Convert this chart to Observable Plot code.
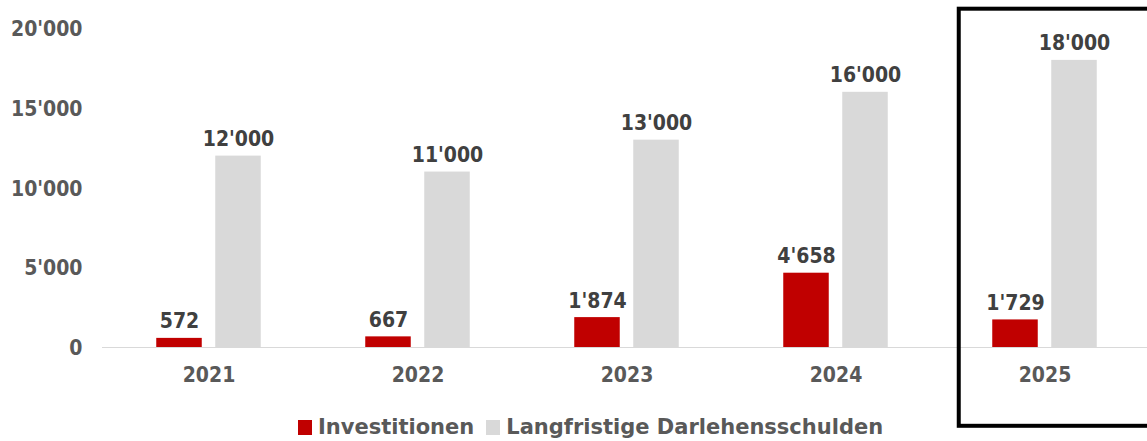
<!DOCTYPE html>
<html>
<head>
<meta charset="utf-8">
<script src="https://cdn.jsdelivr.net/npm/d3@7"></script>
<script src="https://cdn.jsdelivr.net/npm/@observablehq/plot@0.6"></script>
<style>
  html, body { margin: 0; padding: 0; background: #fff; }
  #wrap { position: relative; width: 1147px; height: 441px; overflow: hidden; font-family: "DejaVu Sans Condensed", "DejaVu Sans", sans-serif; }
  #legend { position: absolute; left: 298px; top: 415px; display: flex; align-items: center; font-family: "DejaVu Sans", sans-serif; font-weight: bold; font-size: 21px; color: #595959; white-space: nowrap; line-height: 24px; }
  .sw { display: inline-block; width: 14px; height: 15px; margin-right: 6px; }
  .item { display: flex; align-items: center; margin-right: 12px; }
</style>
</head>
<body>
<div id="wrap"></div>
<script>
const years = ["2021", "2022", "2023", "2024", "2025"];
const investitionen = [572, 667, 1874, 4658, 1729];
const darlehen = [12000, 11000, 13000, 16000, 18000];
const seriesNames = ["Investitionen", "Langfristige Darlehensschulden"];
const seriesColors = ["#C00000", "#D9D9D9"];
const yTicks = [0, 5000, 10000, 15000, 20000];
const highlight = ["2025"];

const fmt = d3.formatLocale({decimal: ".", thousands: "'", grouping: [3], currency: ["", ""]}).format(",");

const rows = [];
years.forEach((y, i) => {
  rows.push({year: y, series: seriesNames[0], value: investitionen[i]});
  rows.push({year: y, series: seriesNames[1], value: darlehen[i]});
});
const inv = rows.filter(r => r.series === seriesNames[0]);
const dar = rows.filter(r => r.series === seriesNames[1]);

const font = '"DejaVu Sans Condensed", "DejaVu Sans", sans-serif';

const chart = Plot.plot({
  width: 1147,
  height: 441,
  marginLeft: 102,
  marginRight: 0,
  marginTop: 28,
  marginBottom: 94,
  style: {fontFamily: font, fontSize: "21px", fontWeight: "bold", background: "#fff", overflow: "visible"},
  x: {domain: years, range: [102.25, 1149.75], padding: 0},
  y: {domain: [0, 20000]},
  color: {domain: seriesNames, range: seriesColors},
  marks: [
    Plot.ruleY([0], {stroke: "#D9D9D9", strokeWidth: 1.2}),
    Plot.barY(inv, {x: "year", y: "value", fill: "series", insetLeft: 81.75, insetRight: 81.75, dx: -29.5}),
    Plot.barY(dar, {x: "year", y: "value", fill: "series", insetLeft: 81.75, insetRight: 81.75, dx: 29.5}),
    Plot.text(inv, {x: "year", y: "value", text: d => fmt(d.value), dx: -29.5, dy: -10, lineAnchor: "bottom", fill: "#404040"}),
    Plot.text(dar, {x: "year", y: "value", text: d => fmt(d.value), dx: 29.5, dy: -10, lineAnchor: "bottom", fill: "#404040"}),
    Plot.axisY({ticks: yTicks, tickFormat: fmt, tickSize: 0, tickPadding: 20, fill: "#595959", label: null, dy: 1}),
    Plot.axisX({tickSize: 0, tickPadding: 20, fill: "#595959", label: null}),
    Plot.cell(highlight, {x: d => d, fill: "none", stroke: "#000", strokeWidth: 4, insetLeft: 18.75, insetRight: -10, insetTop: -19.3, insetBottom: -78.8})
  ]
});

const wrap = document.getElementById("wrap");
wrap.appendChild(chart);
const legend = document.createElement("div");
legend.id = "legend";
seriesNames.forEach((n, i) => {
  const it = document.createElement("span");
  it.className = "item";
  const sw = document.createElement("span");
  sw.className = "sw";
  sw.style.background = seriesColors[i];
  it.appendChild(sw);
  it.appendChild(document.createTextNode(n));
  legend.appendChild(it);
});
wrap.appendChild(legend);
</script>
</body>
</html>
